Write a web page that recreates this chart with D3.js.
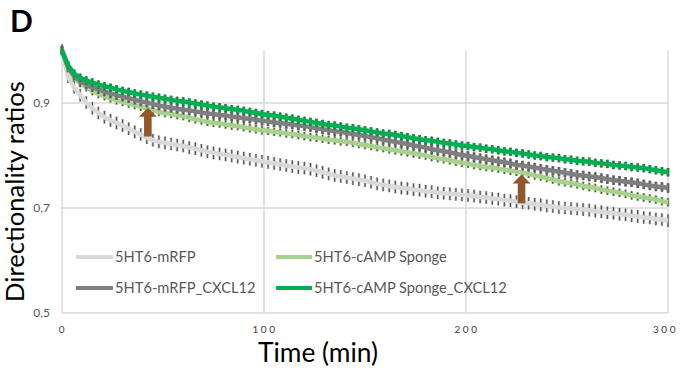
<!DOCTYPE html>
<html><head><meta charset="utf-8">
<script src="https://cdn.jsdelivr.net/npm/d3@7"></script>
<style>body{margin:0;background:#fff}svg{display:block}</style>
</head><body><svg id="c" width="681" height="371"></svg>
<script>
// ---------- data ----------
const times = [0,3,6,9,12,15,18,21,24,27,30,33,36,39,42,45,48,51,54,57,60,63,66,69,72,75,78,81,84,87,90,93,96,99,102,105,108,111,114,117,120,123,126,129,132,135,138,141,144,147,150,153,156,159,162,165,168,171,174,177,180,183,186,189,192,195,198,201,204,207,210,213,216,219,222,225,228,231,234,237,240,243,246,249,252,255,258,261,264,267,270,273,276,279,282,285,288,291,294,297,300];
const seriesNames = ["5HT6-mRFP","5HT6-cAMP Sponge","5HT6-mRFP_CXCL12","5HT6-cAMP Sponge_CXCL12"];
const mRFP = [1.000,0.950,0.930,0.915,0.901,0.890,0.881,0.873,0.867,0.862,
0.857,0.851,0.845,0.840,0.834,0.829,0.826,0.824,0.822,0.820,
0.818,0.815,0.813,0.810,0.807,0.805,0.803,0.801,0.799,0.797,
0.795,0.793,0.791,0.789,0.787,0.785,0.783,0.781,0.779,0.777,
0.776,0.774,0.771,0.768,0.765,0.762,0.760,0.758,0.756,0.754,
0.752,0.749,0.746,0.744,0.742,0.740,0.738,0.737,0.735,0.734,
0.732,0.731,0.729,0.728,0.727,0.726,0.725,0.724,0.723,0.721,
0.720,0.718,0.717,0.715,0.714,0.712,0.710,0.709,0.707,0.706,
0.704,0.703,0.701,0.700,0.699,0.698,0.697,0.696,0.694,0.693,
0.691,0.690,0.688,0.687,0.685,0.684,0.682,0.681,0.679,0.678,0.676];
const sponge = [1.000,0.966,0.948,0.938,0.930,0.923,0.917,0.913,0.909,0.905,
0.902,0.899,0.896,0.893,0.890,0.887,0.883,0.881,0.879,0.877,
0.875,0.872,0.869,0.867,0.864,0.862,0.861,0.859,0.857,0.856,
0.854,0.852,0.850,0.848,0.847,0.845,0.844,0.842,0.841,0.839,
0.837,0.835,0.834,0.832,0.830,0.829,0.827,0.826,0.824,0.822,
0.820,0.818,0.816,0.814,0.812,0.810,0.808,0.806,0.804,0.802,
0.800,0.797,0.795,0.793,0.791,0.788,0.786,0.784,0.782,0.780,
0.778,0.777,0.775,0.773,0.771,0.769,0.767,0.765,0.762,0.760,
0.757,0.754,0.751,0.749,0.747,0.745,0.742,0.740,0.738,0.735,
0.733,0.731,0.729,0.727,0.724,0.722,0.720,0.718,0.716,0.713,0.711];
const mRFP_CXCL12 = [1.000,0.968,0.952,0.942,0.935,0.930,0.926,0.922,0.918,0.915,
0.912,0.909,0.906,0.903,0.901,0.898,0.895,0.893,0.891,0.889,
0.887,0.886,0.884,0.882,0.880,0.879,0.877,0.876,0.874,0.873,
0.871,0.870,0.868,0.866,0.865,0.863,0.862,0.860,0.859,0.857,
0.856,0.854,0.852,0.850,0.848,0.846,0.845,0.843,0.841,0.839,
0.837,0.835,0.833,0.830,0.828,0.826,0.824,0.822,0.819,0.817,
0.815,0.812,0.810,0.808,0.806,0.803,0.801,0.799,0.797,0.795,
0.793,0.791,0.789,0.787,0.785,0.782,0.781,0.779,0.777,0.775,
0.773,0.771,0.769,0.767,0.765,0.763,0.762,0.760,0.759,0.757,
0.755,0.753,0.752,0.750,0.749,0.747,0.745,0.743,0.741,0.740,0.738];
const sponge_CXCL12 = [1.000,0.972,0.956,0.948,0.943,0.939,0.935,0.932,0.929,0.926,
0.923,0.921,0.918,0.916,0.914,0.912,0.910,0.908,0.906,0.904,
0.903,0.901,0.899,0.897,0.895,0.893,0.892,0.890,0.888,0.887,
0.885,0.883,0.881,0.879,0.877,0.876,0.874,0.872,0.870,0.868,
0.866,0.864,0.862,0.860,0.858,0.857,0.855,0.853,0.852,0.850,
0.848,0.846,0.844,0.842,0.841,0.839,0.837,0.835,0.833,0.831,
0.829,0.828,0.826,0.824,0.823,0.821,0.819,0.818,0.816,0.815,
0.813,0.812,0.810,0.808,0.807,0.805,0.804,0.802,0.800,0.799,
0.797,0.796,0.795,0.793,0.792,0.790,0.789,0.788,0.786,0.785,
0.784,0.782,0.781,0.780,0.778,0.777,0.776,0.774,0.772,0.770,0.768];
const semValues = [0.012, 0.008, 0.009, 0.008];
const yTicks = [0.5, 0.7, 0.9];
const yTickLabels = ["0,5","0,7","0,9"];
const xTicks = [0, 100, 200, 300];
const xTickLabels = ["0","100","200","300"];
// arrows: [time, from, to]
const arrowTimes = [42.5, 227.5];
const arrowFrom = [0.836, 0.709];
const arrowTo = [0.891, 0.764];

// ---------- styles ----------
const colors = ["#d9d9d9","#a9d18e","#7f7f7f","#00b050"];
const FONT = "Lato, 'Open Sans', sans-serif";

const svg = d3.select("#c");
const x = d3.scaleLinear().domain([0,300]).range([62,668]);
const y = d3.scaleLinear().domain([0.5,1.0]).range([313,50.5]);

function fit(sel, w){
  const L = sel.node().getComputedTextLength();
  const s = parseFloat(sel.attr("font-size"));
  sel.attr("font-size", (s*w/L).toFixed(2));
}

// grid
const grid = svg.append("g").attr("stroke","#d9d9d9").attr("stroke-width",1.5);
grid.selectAll(".hg").data(yTicks).join("line")
  .attr("x1",x(0)).attr("x2",x(300)).attr("y1",d=>y(d)).attr("y2",d=>y(d));
grid.selectAll(".vg").data(xTicks).join("line")
  .attr("x1",d=>x(d)).attr("x2",d=>x(d)).attr("y1",y(1.0)).attr("y2",y(0.5));

// tick labels via axes
const yAxis = d3.axisLeft(y).tickValues(yTicks).tickFormat((d,i)=>yTickLabels[i]).tickSize(0).tickPadding(12);
const yg = svg.append("g").attr("transform",`translate(${x(0)},0)`).call(yAxis);
yg.select(".domain").remove();
yg.selectAll("text").attr("font-family",FONT).attr("font-size",12).attr("fill","#595959");

const xAxis = d3.axisBottom(x).tickValues(xTicks).tickFormat((d,i)=>xTickLabels[i]).tickSize(0).tickPadding(13);
const xg = svg.append("g").attr("transform",`translate(0,${y(0.5)})`).call(xAxis);
xg.select(".domain").remove();
xg.selectAll("text").attr("font-family",FONT).attr("font-size",10).attr("fill","#404040")
  .attr("letter-spacing","2.6px").attr("dx","0.5px");
xg.selectAll("text").filter((d,i)=>i===3).attr("dx","-3px");

// legend
const legendRows = [[0,1],[2,3]];
const legX = [[76,113,115],[276,312,314]];
const legY = [257,288];
const leg = svg.append("g");
const legTexts = [];
legendRows.forEach((row,ri)=>row.forEach((si,ci)=>{
  leg.append("line").attr("x1",legX[ci][0]).attr("x2",legX[ci][1]).attr("y1",legY[ri]).attr("y2",legY[ri])
    .attr("stroke",colors[si]).attr("stroke-width",4);
  const t = leg.append("text").attr("x",legX[ci][2]).attr("y",legY[ri]).attr("dy","0.36em")
    .attr("font-family",FONT).attr("font-size",16).attr("fill","#595959").text(seriesNames[si]);
  legTexts.push(t);
}));
const longest = legTexts[3];
fit(longest, 193);
legTexts.forEach(t=>t.attr("font-size", longest.attr("font-size")));

// series
const allSeries = [mRFP, sponge, mRFP_CXCL12, sponge_CXCL12];
const line = d3.line().x((d,i)=>x(times[i])).y(d=>y(d));
allSeries.forEach((vals,si)=>{
  const g = svg.append("g");
  const e = semValues[si];
  g.selectAll("line.halo").data(vals).join("line")
    .attr("x1",(d,i)=>x(times[i])).attr("x2",(d,i)=>x(times[i]))
    .attr("y1",d=>y(d+e)).attr("y2",d=>y(d-e))
    .attr("stroke",colors[si]).attr("stroke-width",3);
  g.selectAll("line.eb").data(vals).join("line")
    .attr("x1",(d,i)=>x(times[i])).attr("x2",(d,i)=>x(times[i]))
    .attr("y1",d=>y(d+e)).attr("y2",d=>y(d-e))
    .attr("stroke","#5a5a5a").attr("stroke-width",1.4);
  g.append("path").datum(vals).attr("d",line).attr("fill","none")
    .attr("stroke",colors[si]).attr("stroke-width",4.5).attr("stroke-linejoin","round");
});

// arrows
arrowTimes.forEach((t,i)=>{
  const cx = x(t), yb = y(arrowFrom[i]), yt = y(arrowTo[i]);
  const hw = 9, sw = 3.8, hl = 9;
  const pts = [[cx-sw,yb],[cx-sw,yt+hl],[cx-hw,yt+hl],[cx,yt],[cx+hw,yt+hl],[cx+sw,yt+hl],[cx+sw,yb]];
  svg.append("polygon").attr("points",pts.map(p=>p.join(",")).join(" "))
    .attr("fill","#90582c");
});

// titles
const xt = svg.append("text").attr("x",318).attr("y",362).attr("text-anchor","middle")
  .attr("font-family",FONT).attr("font-size",24).attr("fill","#000").text("Time (min)");
fit(xt,120);
const yt = svg.append("text").attr("transform","translate(24,191.5) rotate(-90)").attr("text-anchor","middle")
  .attr("font-family",FONT).attr("font-size",24).attr("fill","#000").text("Directionality ratios");
fit(yt,221);
svg.append("text").attr("x",10).attr("y",32).attr("font-family",FONT).attr("font-weight","bold")
  .attr("font-size",30).attr("fill","#000").text("D");
</script></body></html>
